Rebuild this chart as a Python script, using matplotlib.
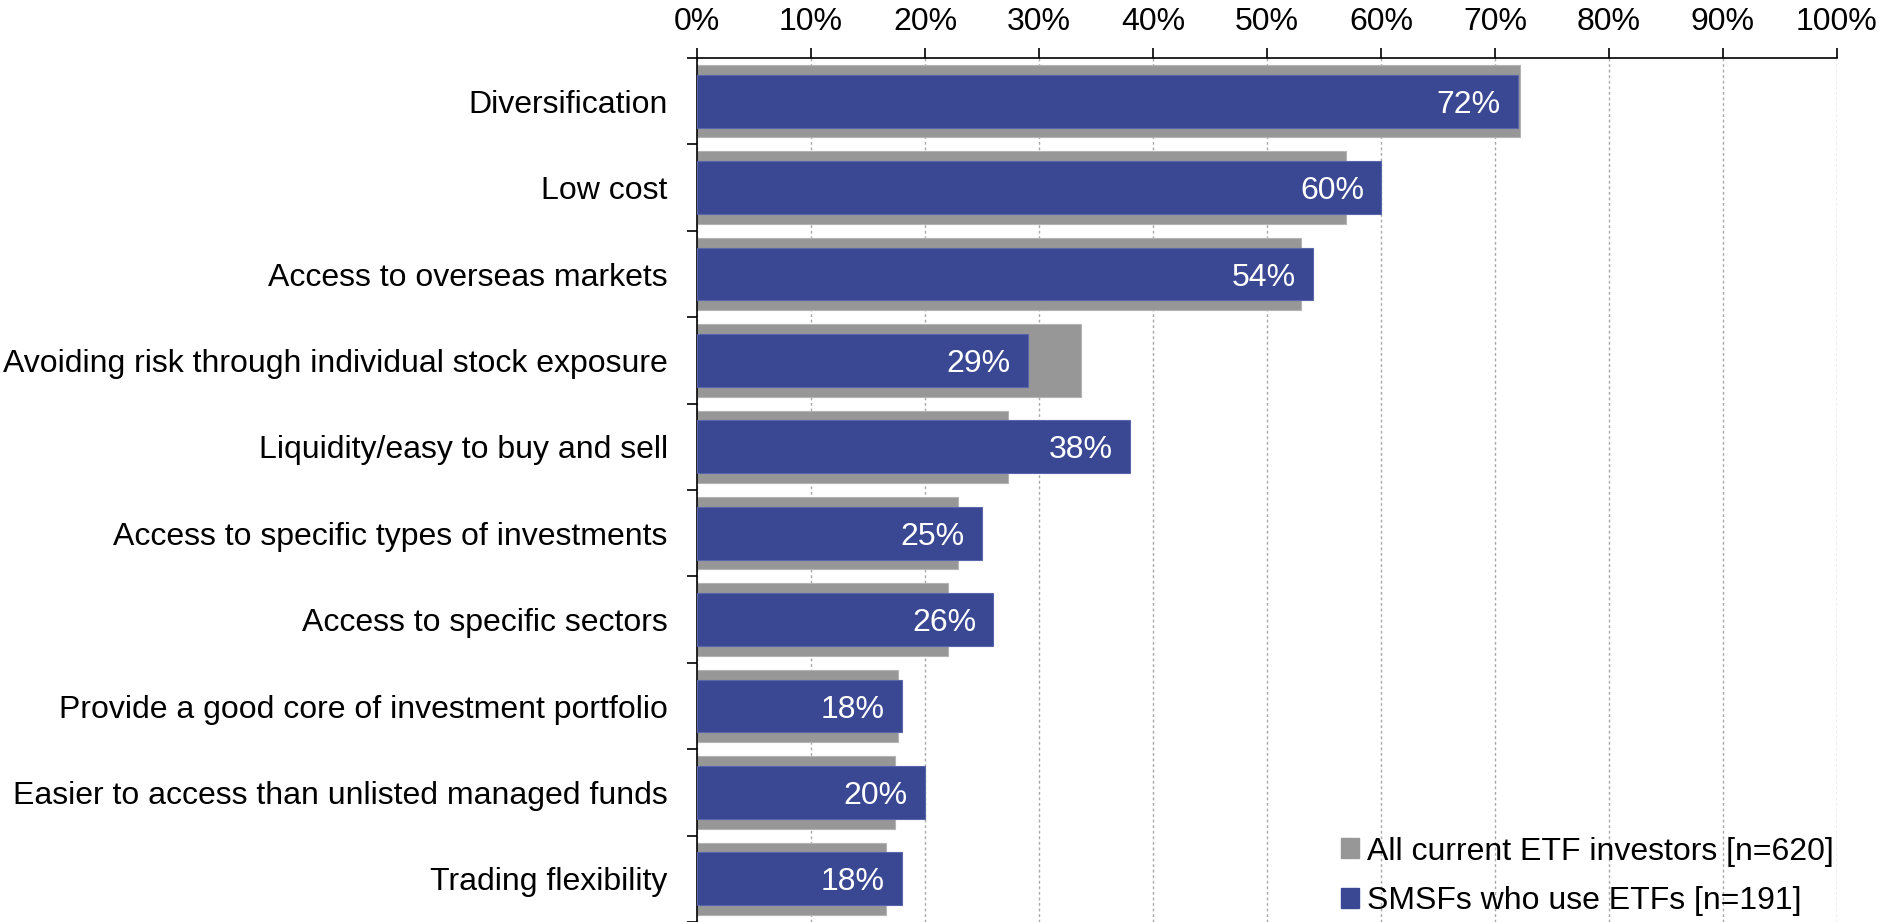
import matplotlib
matplotlib.use("Agg")
import matplotlib.pyplot as plt
from matplotlib.patches import Patch
from matplotlib.ticker import FixedLocator, PercentFormatter

plt.rcParams["font.family"] = ["Liberation Sans", "DejaVu Sans"]

categorias = [
    "Diversification",
    "Low cost",
    "Access to overseas markets",
    "Avoiding risk through individual stock exposure",
    "Liquidity/easy to buy and sell",
    "Access to specific types of investments",
    "Access to specific sectors",
    "Provide a good core of investment portfolio",
    "Easier to access than unlisted managed funds",
    "Trading flexibility",
]
todos_etf = [72.2, 56.9, 53.0, 33.7, 27.3, 22.9, 22.0, 17.6, 17.4, 16.6]
smsf_etf = [72, 60, 54, 29, 38, 25, 26, 18, 20, 18]

etiqueta_todos = "All current ETF investors [n=620]"
etiqueta_smsf = "SMSFs who use ETFs [n=191]"

GRIS = "#979797"
AZUL = "#3a4893"
FS = 23

fig = plt.figure(figsize=(18.79, 9.22), dpi=100)
ax = fig.add_axes([697 / 1879, 0.0, (1837 - 697) / 1879, 1 - 58 / 922])

y = list(range(len(categorias)))
ax.barh(y, todos_etf, height=0.84, color=GRIS, edgecolor="#b4b4b4", lw=0.8, zorder=2)
ax.barh(y, smsf_etf, height=0.61, color=AZUL, edgecolor="#5a66aa", lw=0.8, zorder=3)

for yi, v in zip(y, smsf_etf):
    ax.text(v - 1.5, yi, f"{v}%", color="white", fontsize=FS,
            ha="right", va="center_baseline", zorder=4)

ax.set_xlim(0, 100)
ax.set_ylim(9.5, -0.5)

# eje x arriba, con rejilla punteada
ax.xaxis.tick_top()
ax.set_xticks(range(0, 101, 10))
ax.xaxis.set_major_formatter(PercentFormatter(decimals=0))
ax.tick_params(axis="x", which="major", direction="out", length=7.2, width=1.2,
               labelsize=FS, pad=8)
ax.grid(axis="x", ls=(0, (2, 2)), color="#a8a8a8", lw=1.0, zorder=0)

# categorias a la izquierda, marcas entre grupos
ax.set_yticks(y)
ax.set_yticklabels(categorias)
ax.yaxis.set_minor_locator(FixedLocator([i - 0.5 for i in range(len(categorias) + 1)]))
ax.tick_params(axis="y", which="major", length=0, labelsize=FS, pad=21)
ax.tick_params(axis="y", which="minor", direction="out", length=7.2, width=1.2)

for lado in ("right", "bottom"):
    ax.spines[lado].set_visible(False)
ax.spines["top"].set_linewidth(1.2)
ax.spines["left"].set_linewidth(1.2)

manejadores = [Patch(facecolor=GRIS, edgecolor=GRIS),
               Patch(facecolor=AZUL, edgecolor=AZUL)]
fig.legend(manejadores, [etiqueta_todos, etiqueta_smsf], loc="lower right",
           bbox_to_anchor=(1834 / 1879, 0.006), frameon=False, fontsize=FS,
           handlelength=0.58, handleheight=0.58, handletextpad=0.25,
           labelspacing=0.62, borderpad=0.0, borderaxespad=0.0)

fig.savefig("out.png", dpi=100)
